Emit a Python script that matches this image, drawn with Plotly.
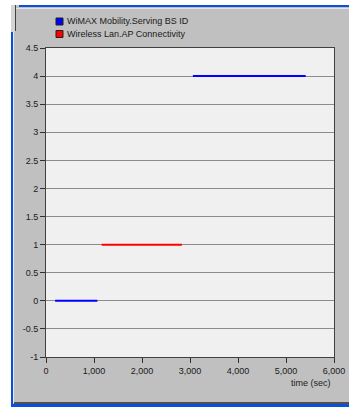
import plotly.graph_objects as go

# Serving BS ID / AP connectivity over simulation time (sec)
wimax_start = [190, 3060]
wimax_end = [1070, 5410]
wimax_value = [0, 4]

wlan_start = [1160]
wlan_end = [2830]
wlan_value = [1]

series_names = ["WiMAX Mobility.Serving BS ID", "Wireless Lan.AP Connectivity"]
series_colors = ["#0000ff", "#ff0000"]

x_tick_vals = [0, 1000, 2000, 3000, 4000, 5000, 6000]
x_tick_text = ["0", "1,000", "2,000", "3,000", "4,000", "5,000", "6,000"]
y_tick_vals = [-1, -0.5, 0, 0.5, 1, 1.5, 2, 2.5, 3, 3.5, 4, 4.5]
y_tick_text = ["-1", "-0.5", "0", "0.5", "1", "1.5", "2", "2.5", "3", "3.5", "4", "4.5"]
x_title = "time (sec)"

W, H = 349, 408
L, R, T, B = 46, 334, 48, 357
FONT = "Liberation Sans, Arial, sans-serif"


def px(x):
    return (x - L) / (R - L)


def py(y):
    return (B - y) / (B - T)


def segments(starts, ends, values):
    xs, ys = [], []
    for s, e, v in zip(starts, ends, values):
        xs += [s, e, None]
        ys += [v, v, None]
    return xs, ys


fig = go.Figure()
for (st, en, val), name, color in zip(
    [(wimax_start, wimax_end, wimax_value), (wlan_start, wlan_end, wlan_value)],
    series_names, series_colors,
):
    xs, ys = segments(st, en, val)
    fig.add_trace(go.Scatter(x=xs, y=ys, mode="lines", name=name,
                             line=dict(color=color, width=2), showlegend=False,
                             hoverinfo="skip"))


def rect(x0, y0, x1, y1, color, line=None):
    return dict(type="rect", xref="paper", yref="paper", layer="below",
                x0=px(x0), x1=px(x1), y0=py(y1), y1=py(y0),
                fillcolor=color,
                line=dict(width=1, color=line) if line else dict(width=0))


shapes = [
    # window frame: white outside strips, then the blue border
    rect(0, 0, 11, 408, "#ffffff"),
    rect(0, 0, 349, 5, "#ffffff"),
    rect(0, 407, 349, 408, "#ffffff"),
    rect(11, 5, 15, 32, "#d4d4d4"),
    rect(15, 5, 16, 31, "#404040"),
    rect(19, 5, 349, 7, "#0a50e0"),
    rect(16, 8, 349, 9, "#e4e4e4"),
    rect(11, 32, 13, 407, "#0a50e0"),
    rect(13, 32, 14, 403, "#e8e8e8"),
    rect(14, 402, 349, 404, "#505050"),
    rect(11, 404, 349, 407, "#0a50e0"),
    # plotting area
    rect(L, T, R, B, "#f0f0f0"),
]

annotations = []
for i, (name, color) in enumerate(zip(series_names, series_colors)):
    yc = 21.5 + i * 12.5
    sh = rect(56, yc - 3.5, 63, yc + 3.5, color, line="#202020")
    sh["layer"] = "above"
    shapes.append(sh)
    annotations.append(dict(xref="paper", yref="paper", x=px(65), y=py(yc),
                            text=name, showarrow=False, xanchor="left",
                            yanchor="middle",
                            font=dict(family=FONT, size=9, color="#1a1a1a")))

annotations.append(dict(xref="paper", yref="paper", x=px(333), y=py(383),
                        text=x_title, showarrow=False, xanchor="right",
                        yanchor="middle",
                        font=dict(family=FONT, size=9, color="#1a1a1a")))

fig.update_layout(
    width=W, height=H, autosize=False,
    margin=dict(l=L, r=W - R, t=T, b=H - B, pad=0, autoexpand=False),
    paper_bgcolor="#c0c0c0",
    plot_bgcolor="#f0f0f0",
    font=dict(family=FONT, size=9, color="#1a1a1a"),
    shapes=shapes,
    annotations=annotations,
    showlegend=False,
    xaxis=dict(range=[0, 6000], tickvals=x_tick_vals, ticktext=x_tick_text,
               automargin=False,
               showgrid=False, zeroline=False, showline=True, linecolor="#404040",
               linewidth=1, mirror=True, ticks="outside", ticklen=5,
               tickcolor="#303030", fixedrange=True),
    yaxis=dict(range=[-1, 4.5], tickvals=y_tick_vals, ticktext=y_tick_text,
               automargin=False,
               showgrid=True, gridcolor="#8c8c8c", gridwidth=1, zeroline=False,
               showline=True, linecolor="#404040", linewidth=1, mirror=True,
               ticks="outside", ticklen=5, tickcolor="#303030", fixedrange=True),
)

fig.write_html("out.html", config={"displayModeBar": False, "responsive": False})
